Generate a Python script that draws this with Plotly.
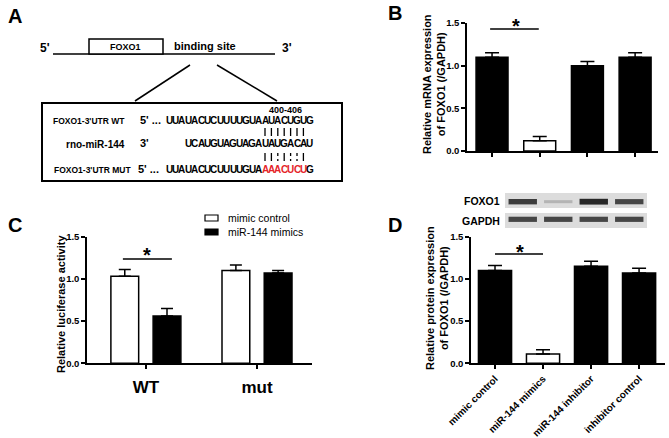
import plotly.graph_objects as go

W, H = 669, 438
FONT = "Liberation Sans, Arial, sans-serif"

# ---- data ----
groups_b = ["mimic control", "miR-144 mimics", "miR-144 inhibitor", "inhibitor control"]
mrna_mean = [1.10, 0.12, 1.00, 1.10]
mrna_err = [0.05, 0.05, 0.05, 0.05]
mrna_fill = ["black", "white", "black", "black"]

luc_groups = ["WT", "mut"]
luc_series = ["mimic control", "miR-144 mimics"]
luc_ctrl = [1.03, 1.10]
luc_ctrl_err = [0.08, 0.065]
luc_mimic = [0.56, 1.07]
luc_mimic_err = [0.09, 0.03]

prot_mean = [1.10, 0.11, 1.15, 1.07]
prot_err = [0.06, 0.05, 0.06, 0.055]
prot_fill = ["black", "white", "black", "black"]

blot_rows = ["FOXO1", "GAPDH"]
foxo1_band = [0.85, 0.25, 0.95, 0.80]
gapdh_band = [0.80, 0.80, 0.80, 0.80]

wt_seq = "UUAUACUCUUUUGUAAUACUGUG"
mir_seq = "UCAUGUAGUAGAUAUGACAU"
mut_seq = "UUAUACUCUUUUGUAAAACUCUG"
mut_red = range(15, 22)
pair_idx = list(range(15, 22))
mut_pair_solid = [1, 1, 0, 1, 0, 0, 1]


def px(x):
    return x / W


def py(y):
    return 1 - y / H


fig = go.Figure()

# ---- panel B ----
fig.add_trace(go.Bar(
    x=list(range(4)), y=mrna_mean, width=0.67,
    marker=dict(color=mrna_fill, line=dict(color="black", width=1.5)),
    error_y=dict(type="data", array=mrna_err, arrayminus=[0] * 4, symmetric=False,
                 color="black", thickness=1.5, width=7),
    xaxis="x", yaxis="y", showlegend=False))

# ---- panel C ----
fig.add_trace(go.Bar(
    x=luc_groups, y=luc_ctrl, name=luc_series[0], width=0.25, offset=-0.315,
    marker=dict(color="white", line=dict(color="black", width=1.5)),
    error_y=dict(type="data", array=luc_ctrl_err, arrayminus=[0, 0], symmetric=False,
                 color="black", thickness=1.5, width=6),
    xaxis="x2", yaxis="y2", showlegend=False))
fig.add_trace(go.Bar(
    x=luc_groups, y=luc_mimic, name=luc_series[1], width=0.25, offset=0.065,
    marker=dict(color="black", line=dict(color="black", width=1.5)),
    error_y=dict(type="data", array=luc_mimic_err, arrayminus=[0, 0], symmetric=False,
                 color="black", thickness=1.5, width=6),
    xaxis="x2", yaxis="y2", showlegend=False))

# ---- panel D ----
fig.add_trace(go.Bar(
    x=list(range(4)), y=prot_mean, width=0.69,
    marker=dict(color=prot_fill, line=dict(color="black", width=1.5)),
    error_y=dict(type="data", array=prot_err, arrayminus=[0] * 4, symmetric=False,
                 color="black", thickness=1.5, width=7),
    xaxis="x3", yaxis="y3", showlegend=False))

# western blot bands
for row, bands in enumerate([foxo1_band, gapdh_band]):
    for i, v in enumerate(bands):
        g = int(230 - 200 * v)
        fig.add_trace(go.Scatter(
            x=[i - 0.4, i + 0.4], y=[row, row], mode="lines",
            line=dict(color=f"rgb({g},{g},{g})", width=2 + 4 * v),
            xaxis="x4", yaxis="y4", showlegend=False, hoverinfo="skip"))

axis_line = dict(showline=True, linecolor="black", linewidth=1.5, showgrid=False,
                 zeroline=False, ticks="outside", ticklen=4, tickwidth=1.5, tickcolor="black",
                 automargin=False)
tickf = dict(family=FONT, size=9.5, color="black", weight="bold")
yvals = [0, 0.5, 1.0, 1.5]
ytext = [f"{v:.1f}" for v in yvals]

y_top = [py(151), py(23)]
y_bot = [py(363.3), py(236.7)]

fig.update_layout(
    template="none",
    width=W, height=H, margin=dict(l=0, r=0, t=0, b=0, autoexpand=False),
    paper_bgcolor="white", plot_bgcolor="white",
    font=dict(family=FONT, color="black"),
    xaxis=dict(domain=[px(467), px(658)], range=[-0.525, 3.48], tickvals=list(range(4)),
               showticklabels=False, anchor="y", **axis_line),
    yaxis=dict(domain=y_top, range=[0, 1.5], tickvals=yvals, ticktext=ytext,
               tickfont=tickf, anchor="x", **axis_line),
    xaxis2=dict(domain=[px(87), px(312)], range=[-0.53, 1.495], type="category",
                tickfont=dict(family=FONT, size=17, color="black", weight="bold"),
                ticklabelstandoff=4, anchor="y2", **axis_line),
    yaxis2=dict(domain=y_bot, range=[0, 1.5], tickvals=yvals, ticktext=ytext,
                tickfont=tickf, anchor="x2", **axis_line),
    xaxis3=dict(domain=[px(471), px(665)], range=[-0.5, 3.54], tickvals=list(range(4)),
                ticktext=groups_b, tickangle=-45,
                tickfont=dict(family=FONT, size=10, color="black", weight="bold"),
                anchor="y3", **axis_line),
    yaxis3=dict(domain=y_bot, range=[0, 1.5], tickvals=yvals, ticktext=ytext,
                tickfont=tickf, anchor="x3", **axis_line),
    xaxis4=dict(domain=[px(505), px(647)], range=[-0.5, 3.5], visible=False, anchor="y4",
                automargin=False),
    yaxis4=dict(domain=[py(229), py(192)], range=[1.55, -0.55], visible=False, anchor="x4",
                automargin=False),
)

shapes = []
ann = []


def text(x, y, s, size, bold=True, xanchor="center", color="black", angle=0):
    ann.append(dict(x=px(x), y=py(y), xref="paper", yref="paper", text=s, showarrow=False,
                    xanchor=xanchor, yanchor="middle", textangle=angle,
                    font=dict(family=FONT, size=size, color=color,
                              weight="bold" if bold else "normal")))


def line(x0, y0, x1, y1, w=1.5, dash="solid"):
    shapes.append(dict(type="line", xref="paper", yref="paper", x0=px(x0), y0=py(y0),
                       x1=px(x1), y1=py(y1), line=dict(color="black", width=w, dash=dash)))


# panel letters
for lab, x, y in [("A", 15, 16), ("B", 395, 13), ("C", 15, 225), ("D", 395, 225)]:
    text(x, y, lab, 20)

# ---- panel A diagram ----
line(53, 54, 275, 54)
shapes.append(dict(type="rect", xref="paper", yref="paper", x0=px(89), y0=py(54), x1=px(163),
                   y1=py(39), line=dict(color="black", width=1.5), fillcolor="white"))
text(126, 47, "FOXO1", 9)
text(205, 46, "binding site", 11)
text(45, 48, "5'", 12)
text(287, 48, "3'", 12)
line(190, 65, 135, 101)
line(217, 65, 277, 101)
shapes.append(dict(type="rect", xref="paper", yref="paper", x0=px(42), y0=py(181), x1=px(342),
                   y1=py(103), line=dict(color="black", width=2)))

cw = 6.4
x_end = 313
for seq, yrow in [(wt_seq, 120), (mir_seq, 143), (mut_seq, 169)]:
    n = len(seq)
    for i, ch in enumerate(seq):
        col = "#e5252a" if (seq is mut_seq and i in mut_red) else "black"
        text(x_end - (n - i - 0.5) * cw, yrow, ch, 10, color=col)

x0_wt = x_end - len(wt_seq) * cw
for k, i in enumerate(pair_idx):
    xc = x0_wt + (i + 0.5) * cw
    line(xc, 128, xc, 136, w=1.3)
    line(xc, 153, xc, 161, w=1.3, dash="solid" if mut_pair_solid[k] else "dot")

text(285, 110, "400-406", 9)
text(127, 121, "FOXO1-3'UTR WT", 8.5, xanchor="right")
text(138, 120, "5' ...", 11, xanchor="left")
text(127, 144, "rno-miR-144", 10, xanchor="right")
text(138, 143, "3'", 11, xanchor="left")
text(133, 170, "FOXO1-3'UTR MUT", 8.5, xanchor="right")
text(136, 169, "5' ...", 11, xanchor="left")

# ---- axis titles ----
text(434, 84, "Relative mRNA expression<br>of FOXO1 (/GAPDH)", 11, angle=-90)
text(61, 304, "Relative luciferase activity", 11, angle=-90)
text(437, 298, "Relative protein expression<br>of FOXO1 (/GAPDH)", 11, angle=-90)

# ---- significance ----
shapes.append(dict(type="line", xref="x", yref="y", x0=-0.04, x1=0.98, y0=1.43, y1=1.43,
                   line=dict(color="black", width=1.5)))
shapes.append(dict(type="line", xref="x2", yref="y2", x0=-0.207, x1=0.234, y0=1.236, y1=1.236,
                   line=dict(color="black", width=1.5)))
shapes.append(dict(type="line", xref="x3", yref="y3", x0=0, x1=1, y0=1.295, y1=1.295,
                   line=dict(color="black", width=1.5)))
text(516, 26, "*", 20)
text(147, 255, "*", 20)
text(520, 252, "*", 20)

# ---- legend C ----
for name, fill, y in [(luc_series[0], "white", 218), (luc_series[1], "black", 232)]:
    shapes.append(dict(type="rect", xref="paper", yref="paper", x0=px(205), x1=px(218),
                       y0=py(y + 3), y1=py(y - 3), fillcolor=fill,
                       line=dict(color="black", width=1.2)))
    text(226, y, name, 10.5, bold=False, xanchor="left")

# ---- blot strips ----
for ytop, ybot, lab in [(193, 208, blot_rows[0]), (213, 228, blot_rows[1])]:
    shapes.append(dict(type="rect", xref="paper", yref="paper", x0=px(505), x1=px(647),
                       y0=py(ybot), y1=py(ytop), fillcolor="#dcdcdc", line=dict(width=0),
                       layer="below"))
    text(502, (ytop + ybot) / 2, lab, 10.5, xanchor="right")

fig.update_layout(shapes=shapes, annotations=ann)
fig.write_html("out.html", config={"displayModeBar": False},
               post_script="document.body.style.margin='0';")
